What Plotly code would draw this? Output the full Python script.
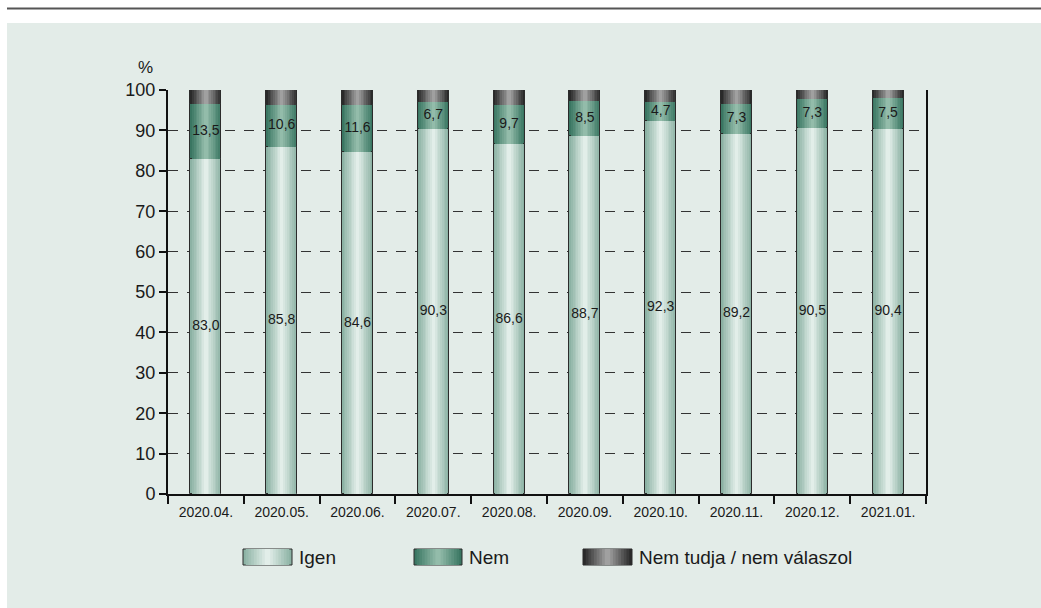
import numpy as np
import plotly.graph_objects as go

# ---- data ----
categories = ['2020.04.', '2020.05.', '2020.06.', '2020.07.', '2020.08.',
              '2020.09.', '2020.10.', '2020.11.', '2020.12.', '2021.01.']
igen = [83.0, 85.8, 84.6, 90.3, 86.6, 88.7, 92.3, 89.2, 90.5, 90.4]
nem = [13.5, 10.6, 11.6, 6.7, 9.7, 8.5, 4.7, 7.3, 7.3, 7.5]
nem_tudja = [3.5, 3.6, 3.8, 3.0, 3.7, 2.8, 3.0, 3.5, 2.2, 2.1]
series_names = ['Igen', 'Nem', 'Nem tudja / nem válaszol']
y_ticks = [0, 10, 20, 30, 40, 50, 60, 70, 80, 90, 100]

# ---- styling ----
W, H = 1041, 608
L, R, T, B = 168, 926, 90, 494
PW, PH = R - L, B - T
BAR_W = 0.41
K = 9
FONT = 'Liberation Sans, Arial, sans-serif'
TXT = '#1a1a1a'
PANEL = '#e3ece8'
grads = [('#8cb2a4', '#e2eee9'), ('#3a7662', '#93bcaa'), ('#2a2a2a', '#a0a0a0')]


def hex2rgb(h):
    h = h.lstrip('#')
    return [int(h[i:i + 2], 16) for i in (0, 2, 4)]


def mix(c1, c2, t):
    a, b = hex2rgb(c1), hex2rgb(c2)
    return 'rgb(%d,%d,%d)' % tuple(round(a[i] + (b[i] - a[i]) * t) for i in range(3))


def px(x):
    return (x - L) / PW


def py(y):
    return (B - y) / PH


vals = [np.array(igen), np.array(nem), np.array(nem_tudja)]
bases = [np.zeros(len(categories)), np.array(igen), np.array(igen) + np.array(nem)]

fig = go.Figure()
for s in range(3):
    edge, center = grads[s]
    for k in range(K):
        t = k / (K - 1)
        w = BAR_W * (1 - k / K)
        fig.add_trace(go.Bar(
            x=categories, y=vals[s], base=bases[s], width=w,
            marker=dict(color=mix(edge, center, t),
                        line=dict(color='#2b2b2b', width=1 if k == 0 else 0)),
            name=series_names[s], showlegend=False, hoverinfo='skip'))


def fmt(v):
    return ('%.1f' % v).replace('.', ',')


fig.add_trace(go.Scatter(
    x=categories, y=vals[0] / 2, mode='text', text=[fmt(v) for v in igen],
    textfont=dict(size=14, color=TXT, family=FONT), showlegend=False, hoverinfo='skip'))
fig.add_trace(go.Scatter(
    x=categories, y=bases[1] + vals[1] / 2, mode='text', text=[fmt(v) for v in nem],
    textfont=dict(size=14, color=TXT, family=FONT), showlegend=False, hoverinfo='skip'))

shapes = []
# panel background
shapes.append(dict(type='rect', xref='paper', yref='paper', x0=px(7), x1=px(1041),
                   y0=py(608), y1=py(23), fillcolor=PANEL, line=dict(width=0), layer='below'))
# top rule
shapes.append(dict(type='line', xref='paper', yref='paper', x0=px(7), x1=px(1041),
                   y0=py(8.5), y1=py(8.5), line=dict(color='#555555', width=2)))

annotations = [dict(text='%', xref='paper', yref='paper', x=px(145), y=py(68),
                    showarrow=False, font=dict(size=17, color=TXT, family=FONT),
                    xanchor='center', yanchor='middle')]

# custom legend
leg = [(243, 292), (414, 462), (583, 632)]
for s, (x0, x1) in enumerate(leg):
    edge, center = grads[s]
    cx = (x0 + x1) / 2
    half = (x1 - x0) / 2
    for k in range(K):
        t = k / (K - 1)
        hw = half * (1 - k / K)
        shapes.append(dict(type='rect', xref='paper', yref='paper',
                           x0=px(cx - hw), x1=px(cx + hw), y0=py(565), y1=py(549),
                           fillcolor=mix(edge, center, t),
                           line=dict(color='#2b2b2b', width=1 if k == 0 else 0)))
    annotations.append(dict(text=series_names[s], xref='paper', yref='paper',
                            x=px(x1 + 5), y=py(557.5), showarrow=False,
                            xanchor='left', yanchor='middle',
                            font=dict(size=19, color=TXT, family=FONT)))

fig.update_layout(
    width=W, height=H, barmode='overlay', bargap=0,
    margin=dict(l=L, r=W - R, t=T, b=H - B, pad=0),
    paper_bgcolor='white', plot_bgcolor='rgba(0,0,0,0)',
    font=dict(family=FONT, color=TXT),
    shapes=shapes, annotations=annotations, showlegend=False,
    xaxis=dict(type='category', categoryorder='array', categoryarray=categories,
               range=[-0.5, len(categories) - 0.5],
               showline=True, linecolor='#111111', linewidth=2,
               ticks='outside', tickson='boundaries', ticklen=8, tickwidth=2,
               tickcolor='#111111', showgrid=False, ticklabelstandoff=4,
               tickfont=dict(size=14, color=TXT, family=FONT)),
    yaxis=dict(range=[0, 100], tickvals=y_ticks, showline=True, mirror=True,
               linecolor='#111111', linewidth=2, ticks='outside', ticklen=7,
               tickwidth=2, tickcolor='#111111',
               showgrid=True, gridcolor='#333333', gridwidth=1, griddash='10px,9px',
               zeroline=False, tickfont=dict(size=18, color=TXT, family=FONT)),
)

fig.write_html('out.html')
